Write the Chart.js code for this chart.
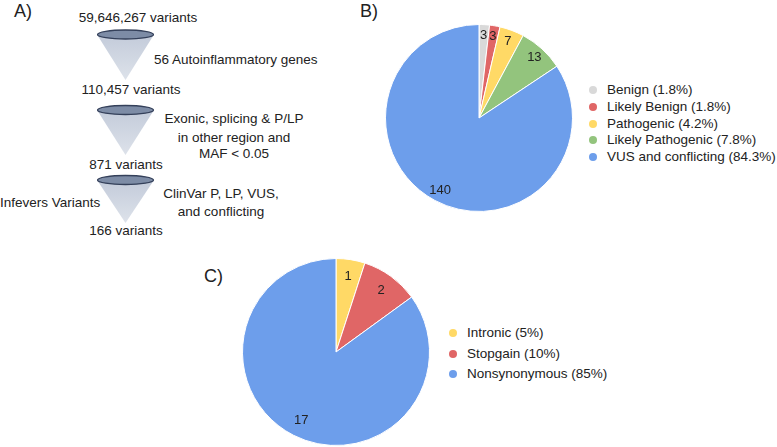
<!DOCTYPE html>
<html>
<head>
<meta charset="utf-8">
<script src="https://cdn.jsdelivr.net/npm/chart.js@4.4.1/dist/chart.umd.min.js"></script>
<style>
  html, body { margin: 0; padding: 0; background: #fff; }
  body { width: 777px; height: 447px; position: relative; overflow: hidden;
         font-family: "Liberation Sans", Arial, sans-serif; color: #222; }
  .panel-tag { position: absolute; font-size: 18px; line-height: 18px; }
  .pie-box { position: absolute; }
  .legend { position: absolute; font-size: 13.5px; }
  .legend-row { position: absolute; left: 0; white-space: nowrap; line-height: 16px; height: 16px; }
  .legend-dot { position: absolute; width: 8px; height: 8px; border-radius: 50%; top: 4px; left: 0; }
  .legend-text { position: absolute; top: 0; }
  #funnel { position: absolute; left: 0; top: 0; }
</style>
</head>
<body>

<svg id="funnel" width="360" height="250" font-family="Liberation Sans, Arial, sans-serif" font-size="13.5" fill="#222"></svg>

<div class="panel-tag" style="left:14px; top:2px;">A)</div>
<div class="panel-tag" style="left:360px; top:2px;">B)</div>
<div class="panel-tag" style="left:204px; top:267px;">C)</div>

<div class="pie-box" style="left:385px; top:24px; width:188px; height:188px;"><canvas id="clinvarPie"></canvas></div>
<div class="legend" id="clinvarLegend" style="left:589px; top:82px;"></div>

<div class="pie-box" style="left:242px; top:258px; width:188px; height:188px;"><canvas id="typePie"></canvas></div>
<div class="legend" id="typeLegend" style="left:449px; top:325px;"></div>

<script>
// Panel B: ClinVar classification of the 166 variants
const clinvarLabels = ['Benign', 'Likely Benign', 'Pathogenic', 'Likely Pathogenic', 'VUS and conflicting'];
const clinvarCounts = [3, 3, 7, 13, 140];
const clinvarColors = ['#d9d9d9', '#e06666', '#ffd966', '#93c47d', '#6d9eeb'];

// Panel C: variant type
const typeLabels = ['Intronic', 'Stopgain', 'Nonsynonymous'];
const typeCounts = [1, 2, 17];
const typeColors = ['#ffd966', '#e06666', '#6d9eeb'];

// Panel A: filtering funnel
const funnelCounts = ['59,646,267 variants', '110,457 variants', '871 variants', '166 variants'];
const funnelSteps = [
    ['56 Autoinflammatory genes'],
    ['Exonic, splicing & P/LP', 'in other region and', 'MAF < 0.05'],
    ['ClinVar P, LP, VUS,', 'and conflicting']
];

// draw the funnel with plain svg
const svg = document.getElementById('funnel');
const NS = 'http://www.w3.org/2000/svg';
function addText(x, y, str, anchor) {
    const t = document.createElementNS(NS, 'text');
    t.setAttribute('x', x);
    t.setAttribute('y', y);
    t.setAttribute('text-anchor', anchor || 'middle');
    t.setAttribute('dominant-baseline', 'central');
    t.textContent = str;
    svg.appendChild(t);
}
const defs = document.createElementNS(NS, 'defs');
defs.innerHTML = '<linearGradient id="coneFill" x1="0" y1="0" x2="0" y2="1">' +
    '<stop offset="0" stop-color="#c3cbda"/><stop offset="1" stop-color="#dde2ea"/></linearGradient>';
svg.appendChild(defs);

const coneTop = [34.5, 110, 180];
const coneTip = [80, 155, 223];
const countY = [17, 89, 164, 230];
const countX = [138, 131, 126, 126];
coneTop.forEach((top, i) => {
    const poly = document.createElementNS(NS, 'polygon');
    poly.setAttribute('points', `97,${top} 154,${top} 125.5,${coneTip[i]}`);
    poly.setAttribute('fill', 'url(#coneFill)');
    svg.appendChild(poly);
    const el = document.createElementNS(NS, 'ellipse');
    el.setAttribute('cx', 125.5);
    el.setAttribute('cy', top);
    el.setAttribute('rx', 28);
    el.setAttribute('ry', 4.5);
    el.setAttribute('fill', '#7d8ca6');
    el.setAttribute('stroke', '#34405a');
    el.setAttribute('stroke-width', 1.3);
    svg.appendChild(el);
});
funnelCounts.forEach((c, i) => addText(countX[i], countY[i], c));
addText(154, 59, funnelSteps[0][0], 'start');
const step2Y = [118, 137, 153];
funnelSteps[1].forEach((s, i) => addText(234, step2Y[i], s));
const step3Y = [193, 211];
funnelSteps[2].forEach((s, i) => addText(221, step3Y[i], s));
addText(0, 202, 'Infevers Variants', 'start');

// numbers inside the slices
const sliceLabels = {
    id: 'sliceLabels',
    afterDatasetsDraw(chart, args, opts) {
        const ctx = chart.ctx;
        const meta = chart.getDatasetMeta(0);
        ctx.save();
        ctx.font = '13px "Liberation Sans", Arial, sans-serif';
        ctx.fillStyle = '#222';
        ctx.textAlign = 'center';
        ctx.textBaseline = 'middle';
        meta.data.forEach((arc, i) => {
            const p = arc.getProps(['x', 'y', 'startAngle', 'endAngle', 'outerRadius'], true);
            const mid = (p.startAngle + p.endAngle) / 2;
            const r = p.outerRadius * opts.dist;
            ctx.fillText(String(chart.data.datasets[0].data[i]), p.x + Math.cos(mid) * r, p.y + Math.sin(mid) * r);
        });
        ctx.restore();
    }
};

function makePie(canvasId, labels, counts, colors, dist) {
    return new Chart(document.getElementById(canvasId), {
        type: 'pie',
        data: {
            labels: labels,
            datasets: [{
                data: counts,
                backgroundColor: colors,
                borderColor: '#ffffff',
                borderWidth: 1
            }]
        },
        options: {
            responsive: true,
            maintainAspectRatio: false,
            animation: false,
            layout: { padding: 0 },
            plugins: {
                legend: { display: false },
                tooltip: { enabled: false },
                sliceLabels: { dist: dist }
            }
        },
        plugins: [sliceLabels]
    });
}

function makeLegend(boxId, labels, counts, colors, rowGap) {
    const box = document.getElementById(boxId);
    const total = counts.reduce((a, b) => a + b, 0);
    labels.forEach((lab, i) => {
        const pct = parseFloat((counts[i] / total * 100).toFixed(1));
        const row = document.createElement('div');
        row.className = 'legend-row';
        row.style.top = (i * rowGap) + 'px';
        row.innerHTML = `<span class="legend-dot" style="background:${colors[i]}"></span>` +
            `<span class="legend-text" style="left:18px">${lab} (${pct}%)</span>`;
        box.appendChild(row);
    });
}

makePie('clinvarPie', clinvarLabels, clinvarCounts, clinvarColors, 0.88);
makePie('typePie', typeLabels, typeCounts, typeColors, 0.82);
makeLegend('clinvarLegend', clinvarLabels, clinvarCounts, clinvarColors, 16.75);
makeLegend('typeLegend', typeLabels, typeCounts, typeColors, 20.5);
</script>
</body>
</html>
